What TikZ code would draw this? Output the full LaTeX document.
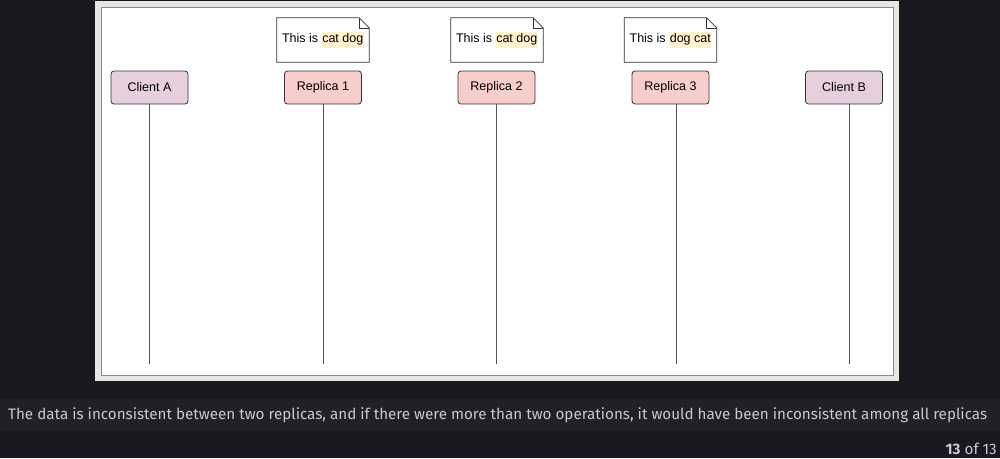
\documentclass[tikz,border=0pt]{standalone}
\usepackage{fontspec}
\setmainfont{Liberation Sans}
\newfontfamily\capfont{Fira Sans}
\usetikzlibrary{positioning}
\definecolor{page}{HTML}{181920}
\definecolor{strip}{HTML}{1F2029}
\definecolor{captext}{HTML}{C8C9CD}
\definecolor{frame}{HTML}{E6E6E6}
\definecolor{sheetline}{HTML}{8A8A8A}
\definecolor{edge}{HTML}{333333}
\definecolor{lifeline}{HTML}{555555}
\definecolor{clientfill}{HTML}{E6D0DE}
\definecolor{replicafill}{HTML}{F8CECC}
\definecolor{mark}{HTML}{FFF2CC}
\newcommand{\hilite}[1]{{\setlength{\fboxsep}{0.6pt}\colorbox{mark}{\strut #1}}}

\begin{document}
\begin{tikzpicture}[x=1pt,y=-1pt,
  font=\fontsize{12.5}{14}\selectfont,
  actor/.style={draw=edge,line width=0.8pt,rounded corners=3pt,minimum width=77pt,minimum height=33pt,inner sep=0pt},
  client/.style={actor,fill=clientfill},
  replica/.style={actor,fill=replicafill},
  memo/.style={minimum width=92pt,minimum height=44pt,inner sep=0pt},
  life/.style={draw=lifeline,line width=0.8pt},
]
\useasboundingbox (0,0) rectangle (1000,458);
\fill[page] (0,0) rectangle (1000,458);
\fill[frame] (95,1) rectangle (899,381);
\draw[sheetline,fill=white] (101,7) rectangle (893,375);

% lifeline heads
\node[client] (clientA) at (149.5,87.5) {Client A};
\node[replica] (rep1) at (323,87.5) {Replica 1};
\node[replica] (rep2) at (496.5,87.5) {Replica 2};
\node[replica] (rep3) at (670.5,87.5) {Replica 3};
\node[client] (clientB) at (844,87.5) {Client B};

% state notes
\node[memo] (note1) at (323,40) {This is \hilite{cat dog}};
\node[memo] (note2) at (497,40) {This is \hilite{cat dog}};
\node[memo] (note3) at (670.5,40) {This is \hilite{dog cat}};
\foreach \n in {note1,note2,note3} {
  \draw[edge,line width=0.8pt] (\n.north west) -- ([xshift=-10pt]\n.north east) -- ([yshift=-10pt]\n.north east)
    -- (\n.south east) -- (\n.south west) -- cycle;
  \draw[edge,line width=0.6pt] ([xshift=-10pt]\n.north east) -- ([xshift=-10pt,yshift=-10pt]\n.north east) -- ([yshift=-10pt]\n.north east);
}

% lifelines
\coordinate (endA) at (149.5,364);
\coordinate (end1) at (323,364);
\coordinate (end2) at (496.5,364);
\coordinate (end3) at (676,364);
\coordinate (endB) at (849.5,364);
\draw[life] (clientA.south) -- (endA);
\draw[life] (rep1.south) -- (end1);
\draw[life] (rep2.south) -- (end2);
\draw[life] (end3 |- rep3.south) -- (end3);
\draw[life] (endB |- clientB.south) -- (endB);

% caption
\fill[strip] (0,399) rectangle (1000,431);
\node[anchor=west,inner sep=0pt,text=captext,font=\capfont\fontsize{15.2}{18}\selectfont] (caption) at (8,415)
  {The data is inconsistent between two replicas, and if there were more than two operations, it would have been inconsistent among all replicas};
\node[anchor=east,inner sep=0pt,text=captext,font=\capfont\fontsize{15.2}{18}\selectfont] (pager) at (997,449) {\textbf{13} of 13};
\end{tikzpicture}
\end{document}
